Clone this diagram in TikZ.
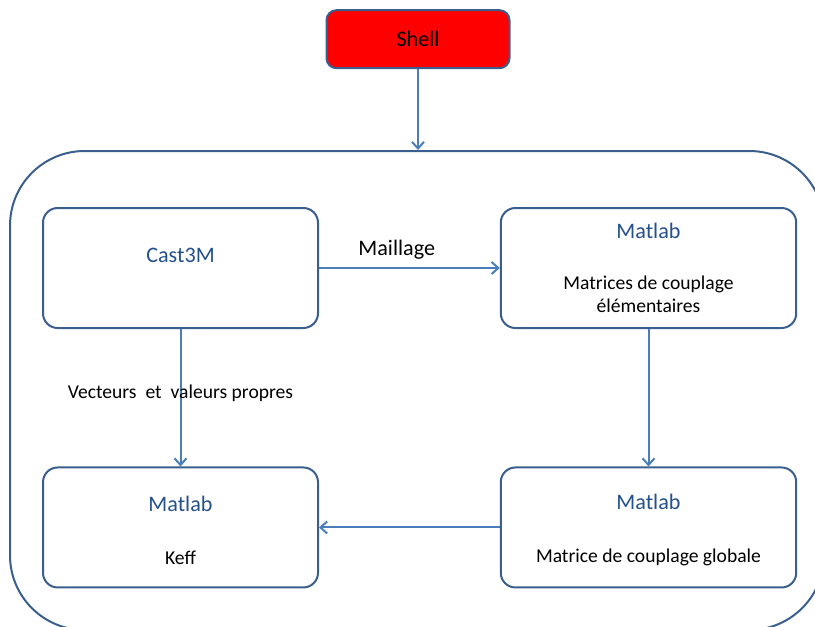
\documentclass[tikz,border=0pt]{standalone}
\usepackage{fontspec}
\setmainfont{Carlito}
\usetikzlibrary{shapes,arrows.meta,calc}
\definecolor{boxborder}{HTML}{3A5F8F}
\definecolor{arrowblue}{HTML}{4A7EBB}
\definecolor{titleblue}{HTML}{24508C}
\newcommand{\bodysize}{\fontsize{14.7}{17.25}\selectfont}
\newcommand{\titlesize}{\fontsize{16.6}{19.9}\selectfont}
\newcommand{\tool}[1]{{\titlesize\color{titleblue}#1}}
\tikzstyle{block} = [rectangle, draw=boxborder, line width=1.5pt, fill=white,
    align=center, rounded corners=11pt, minimum width=206.25pt, minimum height=90pt,
    inner sep=0pt, font=\bodysize]
\tikzstyle{wideblock} = [block, minimum width=221.6pt]
\tikzstyle{shellblock} = [block, fill=red, minimum width=137.25pt, minimum height=43.5pt,
    rounded corners=7.5pt, font=\titlesize]
\tikzstyle{frame} = [rectangle, draw=boxborder, line width=1.5pt, rounded corners=56pt,
    minimum width=610.5pt, minimum height=359.25pt, inner sep=0pt]
\tikzstyle{line} = [draw=arrowblue, line width=1.5pt, -{Straight Barb[length=5pt,width=9pt]}]

\begin{document}
\begin{tikzpicture}[x=0.75pt, y=-0.75pt, node distance=351pt, auto]
    \useasboundingbox (0,0) rectangle (815,626);
    % Place nodes
    \node [frame] (frame) at (417,390.5) {};
    \node [shellblock] (shell) at (418,39.2) {Shell};
    \node [block] (cast) at (180.5,268) {\tool{Cast3M}\\[1.5pt]\mbox{}};
    \node [wideblock, right of=cast] (elem) {\tool{Matlab}\\[21pt]Matrices de couplage\\élémentaires};
    \node [block, below of=cast, node distance=194.6pt] (keff) {\rule{0pt}{16pt}\tool{Matlab}\\[22.5pt]Keff};
    \node [wideblock, below of=elem, node distance=194.6pt] (glob) {\rule{0pt}{16pt}\tool{Matlab}\\[22.5pt]Matrice de couplage globale};
    % Draw edges
    \path [line] (shell.south) -- (shell.south |- frame.north);
    \path [line] (cast.east) -- node [above=1pt, pos=0.43, inner sep=5pt, font=\titlesize] (maillage) {Maillage} (elem.west);
    \path [line] (cast.south) -- node [auto=false, pos=0.47, inner sep=0pt, font=\bodysize] (vecteurs) {Vecteurs\ \ et\ \ valeurs propres} (keff.north);
    \path [line] (elem.south) -- (glob.north);
    \path [line] (glob.west) -- (keff.east);
\end{tikzpicture}
\end{document}
